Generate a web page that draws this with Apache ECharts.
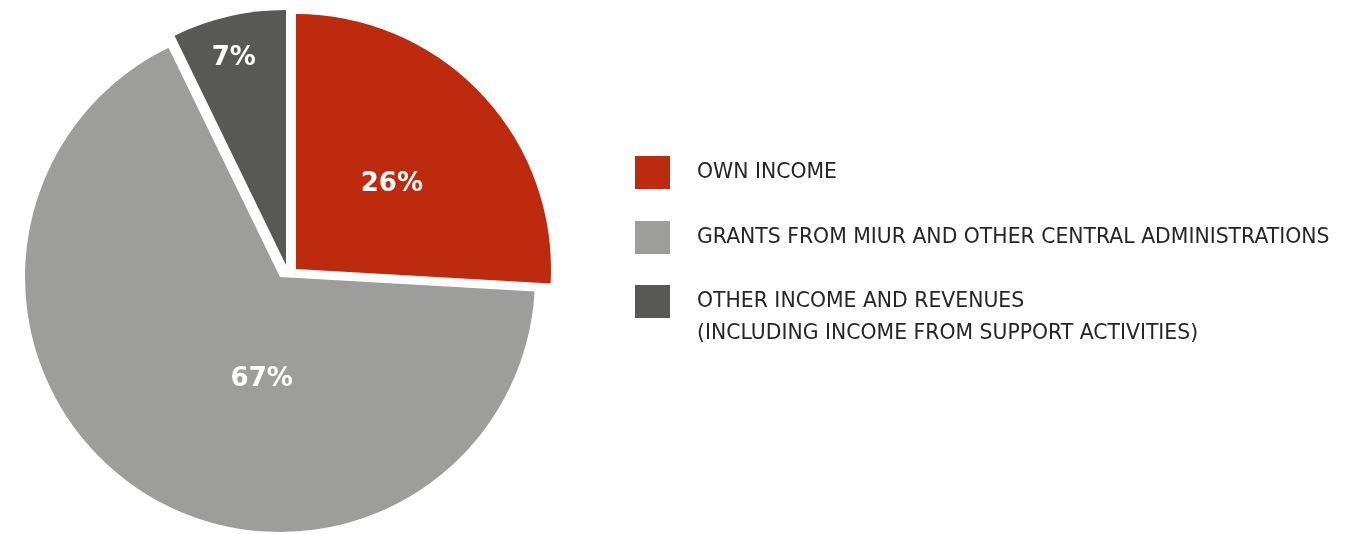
<!DOCTYPE html>
<html>
<head>
<meta charset="utf-8">
<script src="https://cdn.jsdelivr.net/npm/echarts@6/dist/echarts.min.js"></script>
<style>
  html, body { margin: 0; padding: 0; background: #fff; }
  #chart { width: 1360px; height: 534px; }
</style>
</head>
<body>
<div id="chart"></div>
<script>
// data
var names = [
  'OWN INCOME',
  'GRANTS FROM MIUR AND OTHER CENTRAL ADMINISTRATIONS',
  'OTHER INCOME AND REVENUES\n(INCLUDING INCOME FROM SUPPORT ACTIVITIES)'
];
var shares = [25.9, 66.9, 7.2];
var colors = ['#be2a0d', '#9d9d9b', '#585857'];

// each slice is pulled out a little, by its own amount
var centers = [[296, 269], [280, 277], [286, 265]];
var labelOffsets = [[1, 5], [54, -6], [-23, -80]];

var series = [];
for (var i = 0; i < names.length; i++) {
  var data = [];
  for (var j = 0; j < names.length; j++) {
    data.push({
      name: names[j],
      value: shares[j],
      itemStyle: { color: j === i ? colors[j] : 'rgba(0,0,0,0)' },
      label: { show: j === i, offset: labelOffsets[j] }
    });
  }
  series.push({
    type: 'pie',
    center: centers[i],
    radius: 255,
    startAngle: 90,
    clockwise: true,
    silent: true,
    percentPrecision: 0,
    label: {
      position: 'inside',
      formatter: '{d}%',
      color: '#fff',
      fontFamily: 'DejaVu Sans',
      fontWeight: 'bold',
      fontSize: 26
    },
    labelLine: { show: false },
    data: data
  });
}

var legendFont = {
  fontFamily: 'DejaVu Sans',
  fontSize: 20.4,
  color: '#262626',
  lineHeight: 32
};

var myChart = echarts.init(document.getElementById('chart'));
var option = {
  animation: false,
  legend: [
    {
      orient: 'vertical',
      left: 635,
      top: 156,
      padding: 0,
      itemWidth: 35,
      itemHeight: 33,
      itemGap: 32,
      icon: 'rect',
      selectedMode: false,
      textStyle: {
        fontFamily: legendFont.fontFamily,
        fontSize: legendFont.fontSize,
        color: legendFont.color,
        padding: [0, 0, 0, 22]
      },
      data: [
        { name: names[0], itemStyle: { color: colors[0] } },
        { name: names[1], itemStyle: { color: colors[1] } }
      ]
    },
    {
      // two-line item: first line level with the square
      orient: 'vertical',
      left: 635,
      top: 285,
      padding: 0,
      itemWidth: 35,
      itemHeight: 33,
      icon: 'rect',
      selectedMode: false,
      formatter: function (name) {
        return name.split('\n').map(function (s) { return '{t|' + s + '}'; }).join('\n');
      },
      textStyle: {
        padding: [32, 0, 0, 22],
        rich: { t: legendFont }
      },
      data: [
        { name: names[2], itemStyle: { color: colors[2] } }
      ]
    }
  ],
  series: series
};
myChart.setOption(option);
</script>
</body>
</html>
